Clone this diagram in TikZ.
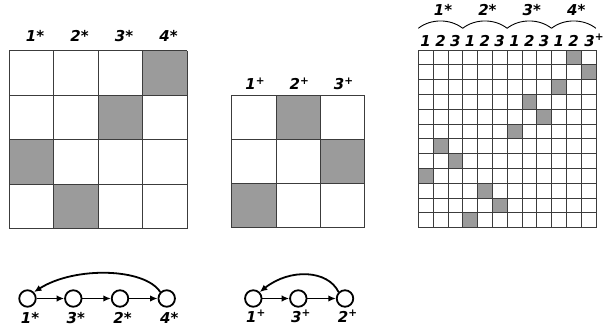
\documentclass[tikz,border=0pt]{standalone}
\usepackage{fontspec}
\setmainfont{DejaVu Sans}
\usetikzlibrary{arrows.meta}

\definecolor{cellgray}{RGB}{155,155,155}
\definecolor{linegray}{RGB}{60,60,60}
\tikzset{
  lbl/.style={anchor=base,inner sep=0pt,font=\fontsize{15}{17}\selectfont\bfseries\itshape},
  gridline/.style={linegray,line width=0.8pt},
  vertex/.style={circle,draw,line width=1.8pt,minimum size=16.5pt,inner sep=0pt},
  edge/.style={line width=1.8pt,-{Latex[length=7.5pt,width=6.5pt]}},
  brace/.style={line width=0.9pt}
}

\begin{document}
\begin{tikzpicture}[x=1pt,y=-1pt]
\useasboundingbox (0,0) rectangle (603,335);

% 4x4 matrix
\foreach \c/\r in {4/1,3/2,1/3,2/4}
  \fill[cellgray] (9.3+44.5*\c-44.5,50.5+44.5*\r-44.5) rectangle ++(44.5,44.5);
\foreach \i in {0,...,4} {
  \draw[gridline] (9.3+44.5*\i,50.5) -- ++(0,178);
  \draw[gridline] (9.3,50.5+44.5*\i) -- ++(178,0);
}
\foreach \i in {1,...,4}
  \node[lbl] (sa\i) at (9.3+44.5*\i-22.25+3.5,41.7) {\i*};

% 3x3 matrix
\foreach \c/\r in {2/1,3/2,1/3}
  \fill[cellgray] (231.7+44.2*\c-44.2,95+44.2*\r-44.2) rectangle ++(44.2,44.2);
\foreach \i in {0,...,3} {
  \draw[gridline] (231.7+44.2*\i,95) -- ++(0,132.6);
  \draw[gridline] (231.7,95+44.2*\i) -- ++(132.6,0);
}
\foreach \i in {1,...,3}
  \node[lbl] (pa\i) at (231.7+44.2*\i-22.1+1.5,89.3) {\i\textsuperscript{+}};

% 12x12 matrix
\foreach \r/\c in {1/11,2/12,3/10,4/8,5/9,6/7,7/2,8/3,9/1,10/5,11/6,12/4}
  \fill[cellgray] (418.3+14.8*\c-14.8,50+14.8*\r-14.8) rectangle ++(14.8,14.8);
\foreach \i in {0,...,12} {
  \draw[gridline] (418.3+14.8*\i,50) -- ++(0,177.6);
  \draw[gridline] (418.3,50+14.8*\i) -- ++(177.6,0);
}
\foreach \i in {1,...,11} {
  \pgfmathtruncatemacro{\k}{mod(\i-1,3)+1}
  \node[lbl] (n\i) at (418.3+14.8*\i-7.4,46) {\k};
}
\node[lbl,anchor=base west] (n12) at (584.2,46) {3\textsuperscript{+}};
\foreach \g in {1,...,4} {
  \draw[brace] (418.3+44.4*\g-44.4,28.3) .. controls (418.3+44.4*\g-32,18.5) and (418.3+44.4*\g-12.4,18.5) .. (418.3+44.4*\g,28.3);
  \node[lbl] (g\g) at (418.3+44.4*\g-22.2+2.5,15) {\g*};
}

% cycle 1* 3* 2* 4*
\node[vertex] (a1) at (27.5,298.5) {};
\node[vertex] (a2) at (73.3,298.5) {};
\node[vertex] (a3) at (120,298.5) {};
\node[vertex] (a4) at (166.7,298.5) {};
\draw[edge] (a1) -- (a2);
\draw[edge] (a2) -- (a3);
\draw[edge] (a3) -- (a4);
\draw[edge] (a4.north west) .. controls (145,268) and (75,266) .. (a1.north east);
\node[lbl] (la1) at (30,323.3) {1*};
\node[lbl] (la2) at (75.8,323.3) {3*};
\node[lbl] (la3) at (122.5,323.3) {2*};
\node[lbl] (la4) at (169.2,323.3) {4*};

% cycle 1+ 3+ 2+
\node[vertex] (b1) at (253.3,298.5) {};
\node[vertex] (b2) at (298.3,298.5) {};
\node[vertex] (b3) at (345,298.5) {};
\draw[edge] (b1) -- (b2);
\draw[edge] (b2) -- (b3);
\draw[edge] (b3.north west) .. controls (328,270) and (290,268) .. (b1.north east);
\node[lbl] (lb1) at (256,322) {1\textsuperscript{+}};
\node[lbl] (lb2) at (301,322) {3\textsuperscript{+}};
\node[lbl] (lb3) at (347.7,322) {2\textsuperscript{+}};
\end{tikzpicture}
\end{document}
